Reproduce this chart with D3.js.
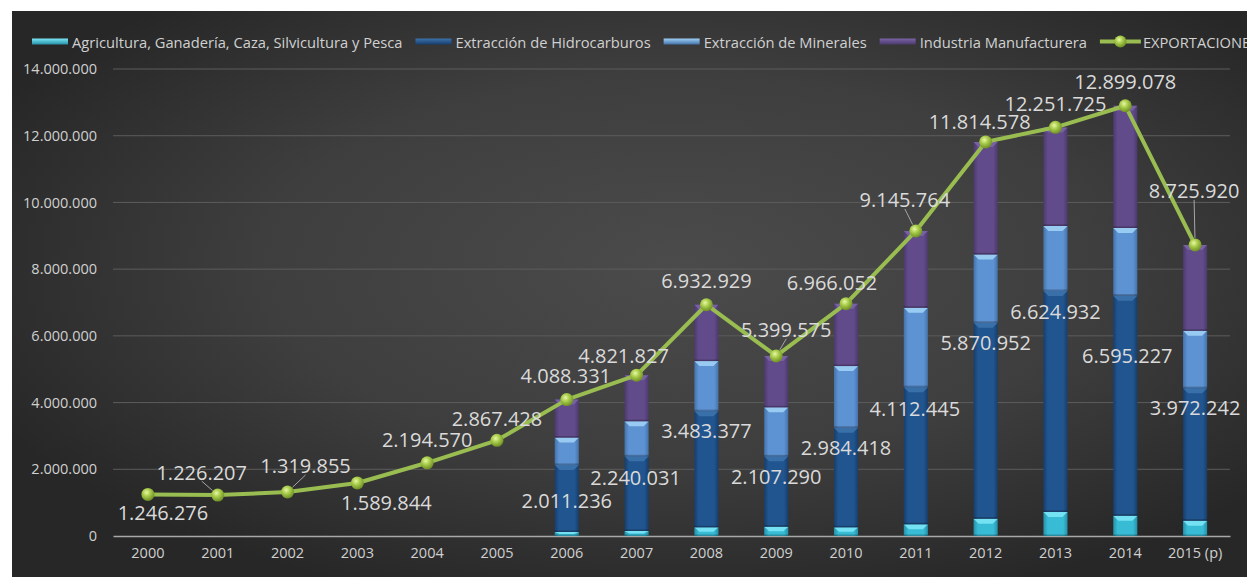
<!DOCTYPE html>
<html>
<head>
<meta charset="utf-8">
<script src="https://cdn.jsdelivr.net/npm/d3@7"></script>
<style>
  html, body { margin: 0; padding: 0; background: #ffffff; }
  svg { display: block; }
  text { font-family: "Open Sans", "Noto Sans", sans-serif; }
</style>
</head>
<body>
<svg id="chart" width="1247" height="578"></svg>
<script>
// Exportaciones por actividad económica (miles de dólares)
const years = ["2000", "2001", "2002", "2003", "2004", "2005", "2006", "2007",
               "2008", "2009", "2010", "2011", "2012", "2013", "2014", "2015 (p)"];

const exportaciones = [1246276, 1226207, 1319855, 1589844, 2194570, 2867428, 4088331, 4821827,
                       6932929, 5399575, 6966052, 9145764, 11814578, 12251725, 12899078, 8725920];

const agricultura = [null, null, null, null, null, null, 120000, 150000,
                     260000, 280000, 260000, 350000, 520000, 720000, 610000, 460000];

const hidrocarburos = [null, null, null, null, null, null, 2011236, 2240031,
                       3483377, 2107290, 2984418, 4112445, 5870952, 6624932, 6595227, 3972242];

const minerales = [null, null, null, null, null, null, 820000, 1050000,
                   1500000, 1470000, 1850000, 2380000, 2050000, 1950000, 2030000, 1720000];

const industria = [null, null, null, null, null, null, 1140000, 1380000,
                   1690000, 1540000, 1870000, 2300000, 3370000, 2950000, 3660000, 2570000];

const yTicks = [0, 2000000, 4000000, 6000000, 8000000, 10000000, 12000000, 14000000];

const seriesNames = ["Agricultura, Ganadería, Caza, Silvicultura y Pesca",
                     "Extracción de Hidrocarburos",
                     "Extracción de Minerales",
                     "Industria Manufacturera"];
const lineName = "EXPORTACIONES";

// Placement of the value labels (pixel offsets from their point)
const expLabelDx = [15, -16, 18, 29, 0, 0, -1, -13, 0, 10, -14, -11, -6, 0, 0, -1];
const expLabelDy = [18, -23, -26, 20, -23, -22, -24, -20, -24, -26, -21, -31, -20, -24, -24, -54];
const expLeader  = [false, true, true, false, false, false, false, false, false, true, false, true, false, false, false, true];
const hidLabelDy = [0, 0, 0, 0, 0, 0, 36, 21, 19, 20, 20, 21, 20, 21, 60, 19];
const hidLabelDx = [0, 0, 0, 0, 0, 0, 0, -1, 0, 0, 0, -1, 0, 0, 2, 0];

const W = 1247, H = 578;
const svg = d3.select("#chart");
const defs = svg.append("defs");

// ---- background panel
const bg = defs.append("radialGradient").attr("id", "bgGrad")
  .attr("cx", "54%").attr("cy", "45%").attr("r", "62%");
bg.append("stop").attr("offset", "0%").attr("stop-color", "#4b4b4b");
bg.append("stop").attr("offset", "55%").attr("stop-color", "#3e3e3e");
bg.append("stop").attr("offset", "100%").attr("stop-color", "#272727");

svg.append("rect").attr("x", 12).attr("y", 11).attr("width", W - 12).attr("height", 566)
  .attr("fill", "url(#bgGrad)");

// ---- scales
const x = d3.scaleBand().domain(years).range([113, 1230])
  .paddingInner(0.655).paddingOuter(0.3275);
const y = d3.scaleLinear().domain([0, 14000000]).range([536, 69]);
const cx = d => x(d) + x.bandwidth() / 2;

const loc = d3.formatLocale({ decimal: ",", thousands: ".", grouping: [3], currency: ["", ""] });
const fmt = loc.format(",d");

// ---- gridlines
svg.append("g").selectAll("line").data(yTicks.filter(t => t > 0)).join("line")
  .attr("x1", 113).attr("x2", 1230)
  .attr("y1", d => y(d)).attr("y2", d => y(d))
  .attr("stroke", "#5c5c5c").attr("stroke-width", 1);

// ---- y axis
const yAxis = svg.append("g").attr("transform", "translate(113,0)")
  .call(d3.axisLeft(y).tickValues(yTicks).tickFormat(fmt).tickSize(0).tickPadding(16));
yAxis.select(".domain").remove();
yAxis.selectAll("text").attr("fill", "#d0d0d0").attr("font-size", "14.5px")
  .attr("font-family", "'Open Sans', sans-serif");

// ---- x axis
const xAxis = svg.append("g").attr("transform", "translate(0,536)")
  .call(d3.axisBottom(x).tickSize(0).tickPadding(12));
xAxis.select(".domain").attr("stroke", "#a8a8a8").attr("stroke-width", 1.5);
xAxis.selectAll("text").attr("fill", "#d0d0d0").attr("font-size", "14.5px")
  .attr("font-family", "'Open Sans', sans-serif");

// ---- stacked bars
const palette = [
  { body: "#38bcd6", edge: "#2690a8", top: "#7be6f6" },   // agricultura
  { body: "#21558f", edge: "#173e6c", top: "#3d73ad" },   // hidrocarburos
  { body: "#5e93d3", edge: "#4473ab", top: "#9fd0f5" },   // minerales
  { body: "#624b8a", edge: "#4b3a6d", top: "#7b64a6" }    // industria
];
palette.forEach((p, i) => {
  const g = defs.append("linearGradient").attr("id", "barGrad" + i)
    .attr("x1", "0").attr("x2", "1").attr("y1", "0").attr("y2", "0");
  g.append("stop").attr("offset", "0%").attr("stop-color", p.edge);
  g.append("stop").attr("offset", "18%").attr("stop-color", p.body);
  g.append("stop").attr("offset", "82%").attr("stop-color", p.body);
  g.append("stop").attr("offset", "100%").attr("stop-color", p.edge);
});

const rows = years.map((yr, i) => ({
  year: yr,
  agricultura: agricultura[i], hidrocarburos: hidrocarburos[i],
  minerales: minerales[i], industria: industria[i]
})).filter(r => r.hidrocarburos != null);

const keys = ["agricultura", "hidrocarburos", "minerales", "industria"];
const stacked = d3.stack().keys(keys)(rows);

const bw = x.bandwidth();
stacked.forEach((layer, li) => {
  const g = svg.append("g").attr("class", "layer-" + keys[li]);
  layer.forEach(seg => {
    const x0 = x(seg.data.year);
    const yTop = y(seg[1]), yBot = y(seg[0]);
    const h = yBot - yTop;
    g.append("rect").attr("x", x0).attr("y", yTop).attr("width", bw).attr("height", h)
      .attr("fill", "url(#barGrad" + li + ")");
    const bev = Math.min(5, h / 2);
    g.append("path")
      .attr("d", `M${x0},${yTop} L${x0 + bw},${yTop} L${x0 + bw - 5},${yTop + bev} L${x0 + 5},${yTop + bev} Z`)
      .attr("fill", palette[li].top).attr("opacity", 0.9);
    g.append("rect").attr("x", x0).attr("y", yBot - 1.5).attr("width", bw).attr("height", 1.5)
      .attr("fill", "#000").attr("opacity", 0.25);
  });
});

// ---- hidrocarburos value labels
svg.append("g").selectAll("text")
  .data(years.map((yr, i) => ({ yr, i })).filter(d => hidrocarburos[d.i] != null))
  .join("text")
  .attr("x", d => cx(d.yr) + hidLabelDx[d.i])
  .attr("y", d => y(agricultura[d.i] + hidrocarburos[d.i]) + hidLabelDy[d.i])
  .attr("text-anchor", "middle").attr("dominant-baseline", "central")
  .attr("font-size", "20px").attr("fill", "#dadada")
  .text(d => fmt(hidrocarburos[d.i]));

// ---- exportaciones line
const mk = defs.append("radialGradient").attr("id", "mkGrad")
  .attr("cx", "40%").attr("cy", "35%").attr("r", "65%");
mk.append("stop").attr("offset", "0%").attr("stop-color", "#e9f7a6");
mk.append("stop").attr("offset", "45%").attr("stop-color", "#a8cc4a");
mk.append("stop").attr("offset", "100%").attr("stop-color", "#6f8f26");

const line = d3.line().x((d, i) => cx(years[i])).y(d => y(d));
svg.append("path").datum(exportaciones)
  .attr("d", line).attr("fill", "none")
  .attr("stroke", "#99bd50").attr("stroke-width", 4).attr("stroke-linejoin", "round");

svg.append("g").selectAll("circle").data(exportaciones).join("circle")
  .attr("cx", (d, i) => cx(years[i])).attr("cy", d => y(d)).attr("r", 6.5)
  .attr("fill", "url(#mkGrad)");

// ---- exportaciones labels and leaders
const expG = svg.append("g");
exportaciones.forEach((v, i) => {
  const px = cx(years[i]), py = y(v);
  const lx = px + expLabelDx[i], ly = py + expLabelDy[i];
  if (expLeader[i]) {
    const sx = lx, sy = ly + 9;
    const ang = Math.atan2(py - sy, px - sx);
    const ex = px - Math.cos(ang) * 7, ey = py - Math.sin(ang) * 7;
    expG.append("line").attr("x1", sx).attr("y1", sy).attr("x2", ex).attr("y2", ey)
      .attr("stroke", "#a6a6a6").attr("stroke-width", 1);
  }
  expG.append("text").attr("x", lx).attr("y", ly)
    .attr("text-anchor", "middle").attr("dominant-baseline", "central")
    .attr("font-size", "20px").attr("fill", "#dadada")
    .text(fmt(v));
});

// ---- legend
const legend = svg.append("g").attr("font-size", "14.7px").attr("fill", "#d0d0d0");
const legY = 41.5;
let lxPos = 32;
seriesNames.forEach((name, i) => {
  const lg = defs.append("linearGradient").attr("id", "legGrad" + i)
    .attr("x1", "0").attr("x2", "0").attr("y1", "0").attr("y2", "1");
  lg.append("stop").attr("offset", "0%").attr("stop-color", palette[i].top);
  lg.append("stop").attr("offset", "100%").attr("stop-color", palette[i].edge);
  legend.append("rect").attr("x", lxPos).attr("y", legY - 3).attr("width", 36).attr("height", 6)
    .attr("fill", "url(#legGrad" + i + ")");
  const t = legend.append("text").attr("x", lxPos + 40).attr("y", legY)
    .attr("dominant-baseline", "central").text(name);
  lxPos += 40 + t.node().getComputedTextLength() + 13;
});
legend.append("line").attr("x1", lxPos).attr("x2", lxPos + 41).attr("y1", legY).attr("y2", legY)
  .attr("stroke", "#99bd50").attr("stroke-width", 4);
legend.append("circle").attr("cx", lxPos + 20.5).attr("cy", legY).attr("r", 6).attr("fill", "url(#mkGrad)");
legend.append("text").attr("x", lxPos + 43).attr("y", legY)
  .attr("dominant-baseline", "central").text(lineName);
</script>
</body>
</html>
